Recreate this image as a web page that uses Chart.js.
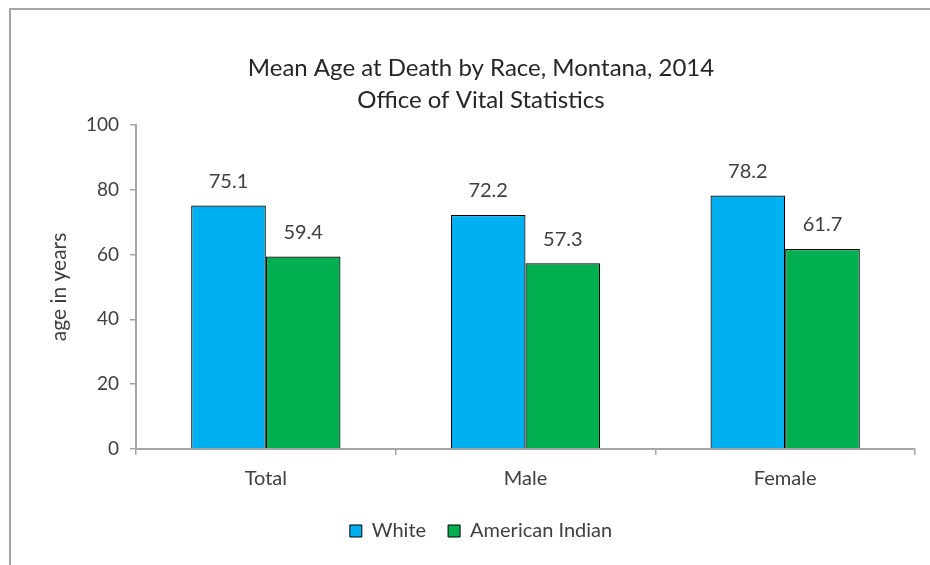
<!DOCTYPE html>
<html>
<head>
<meta charset="utf-8">
<script src="https://cdn.jsdelivr.net/npm/chart.js@4.4.0/dist/chart.umd.min.js"></script>
<style>
  html, body { margin: 0; padding: 0; background: #fff; }
  #wrap { position: relative; width: 930px; height: 565px; }
  #frame { position: absolute; left: 9px; top: 8px; right: -10px; bottom: -10px; border-left: 2px solid #a6a6a6; border-top: 2px solid #a6a6a6; }
  canvas { position: absolute; left: 0; top: 0; }
</style>
</head>
<body>
<div id="wrap">
  <div id="frame"></div>
  <canvas id="c" width="930" height="565"></canvas>
</div>
<script>
const categories = ["Total", "Male", "Female"];
const whiteValues = [75.1, 72.2, 78.2];
const americanIndianValues = [59.4, 57.3, 61.7];
const yTicks = [0, 20, 40, 60, 80, 100];
const titleLines = ["Mean Age at Death by Race, Montana, 2014", "Office of Vital Statistics"];
const yAxisTitle = "age in years";

const FONT = "Lato, 'Open Sans', sans-serif";
const TEXT = "#404040";

const valueLabels = {
  id: "valueLabels",
  afterDatasetsDraw(chart) {
    const ctx = chart.ctx;
    ctx.save();
    ctx.font = "20px " + FONT;
    ctx.fillStyle = TEXT;
    ctx.textAlign = "center";
    ctx.textBaseline = "middle";
    chart.data.datasets.forEach((ds, i) => {
      chart.getDatasetMeta(i).data.forEach((bar, j) => {
        ctx.fillText(ds.data[j].toFixed(1), bar.x, bar.y - 24);
      });
    });
    ctx.restore();
  }
};

new Chart(document.getElementById("c"), {
  type: "bar",
  data: {
    labels: categories,
    datasets: [
      { label: "White", data: whiteValues, backgroundColor: "#00b0f0", borderColor: "#000", borderWidth: 1.2 },
      { label: "American Indian", data: americanIndianValues, backgroundColor: "#00b050", borderColor: "#000", borderWidth: 1.2 }
    ]
  },
  options: {
    responsive: false,
    animation: false,
    layout: { padding: { left: 47, right: 15, top: 52, bottom: 14 } },
    datasets: { bar: { categoryPercentage: 0.575, barPercentage: 1.0 } },
    plugins: {
      title: {
        display: true,
        text: titleLines,
        color: "#262626",
        font: { family: FONT, size: 24, weight: "normal", lineHeight: 1.34 },
        padding: { top: 0, bottom: 8.6 }
      },
      legend: {
        position: "bottom",
        labels: {
          color: TEXT,
          font: { family: FONT, size: 20 },
          boxWidth: 12, boxHeight: 12,
          padding: 22,
          generateLabels(chart) {
            return chart.data.datasets.map((ds, i) => ({
              text: ds.label, fillStyle: ds.backgroundColor, strokeStyle: "#000",
              lineWidth: 1, datasetIndex: i, fontColor: TEXT
            }));
          }
        }
      },
      tooltip: { enabled: false }
    },
    scales: {
      x: {
        grid: { display: true, offset: true, drawOnChartArea: false, drawTicks: true, tickLength: 6, color: "#a6a6a6", lineWidth: 1.5 },
        border: { display: true, color: "#a6a6a6", width: 2 },
        ticks: { color: TEXT, font: { family: FONT, size: 20 }, padding: 12 },
        afterFit(scale) { scale.height = 50; }
      },
      y: {
        min: 0, max: 100,
        afterBuildTicks(scale) { scale.ticks = yTicks.map(v => ({ value: v })); },
        grid: { display: true, drawOnChartArea: false, drawTicks: true, tickLength: 6, color: "#a6a6a6", lineWidth: 1.5 },
        border: { display: true, color: "#a6a6a6", width: 2 },
        ticks: { color: TEXT, font: { family: FONT, size: 19 }, padding: 11 },
        title: { display: true, text: yAxisTitle, color: TEXT, font: { family: FONT, size: 21 }, padding: { top: 0, bottom: 0 } },
        afterFit(scale) { scale.width = 89; }
      }
    }
  },
  plugins: [valueLabels]
});
</script>
</body>
</html>
